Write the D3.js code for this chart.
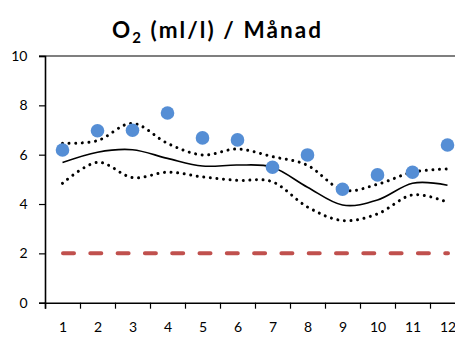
<!DOCTYPE html>
<html>
<head>
<meta charset="utf-8">
<script src="https://cdn.jsdelivr.net/npm/d3@7"></script>
<style>
  html, body { margin: 0; padding: 0; background: #fff; overflow: hidden; }
  svg { display: block; }
  text { font-family: Lato, "Open Sans", sans-serif; fill: #000; }
</style>
</head>
<body>
<svg id="chart" width="455" height="338"></svg>
<script>
// Monthly oxygen values (ml/l)
const months = [1, 2, 3, 4, 5, 6, 7, 8, 9, 10, 11, 12];
const observed = [6.19, 6.97, 6.99, 7.69, 6.68, 6.60, 5.49, 5.99, 4.60, 5.18, 5.29, 6.39];
const mean = [5.68, 6.10, 6.20, 5.85, 5.54, 5.58, 5.49, 4.68, 3.96, 4.16, 4.84, 4.76];
const upper = [6.46, 6.57, 7.27, 6.46, 5.99, 6.23, 5.92, 5.57, 4.57, 4.80, 5.29, 5.42];
const lower = [4.84, 5.69, 5.07, 5.29, 5.10, 4.96, 4.90, 3.88, 3.33, 3.60, 4.37, 4.07];
const limit = [2, 2, 2, 2, 2, 2, 2, 2, 2, 2, 2, 2];
const yTicks = [0, 2, 4, 6, 8, 10];

const svg = d3.select("#chart");
const plotLeft = 45, plotBottom = 302.7, plotTop = 56;

// Month axis: each month occupies one band of width 35 px
const x = d3.scaleLinear().domain([0.5, 12.5]).range([plotLeft, plotLeft + 35 * 12]);
const y = d3.scaleLinear().domain([0, 10]).range([plotBottom, plotTop]);

// Top border line of the plot area
svg.append("line")
  .attr("x1", plotLeft - 6).attr("x2", 455)
  .attr("y1", y(10)).attr("y2", y(10))
  .attr("stroke", "#000").attr("stroke-width", 1.2);

// Y axis
const yAxis = svg.append("g")
  .attr("transform", `translate(${plotLeft},0)`)
  .call(d3.axisLeft(y).tickValues(yTicks).tickSize(6).tickPadding(11.5).tickFormat(d3.format("d")));
yAxis.select(".domain").attr("stroke", "#000").attr("stroke-width", 1.6);
yAxis.selectAll(".tick line").attr("stroke", "#000").attr("stroke-width", 1.2);
yAxis.selectAll("text").attr("font-size", 14).attr("font-family", "Lato, sans-serif").attr("fill", "#000");

// X axis: tick marks at band boundaries, labels at band centres
const boundaries = d3.range(0.5, 13, 1);
const xAxis = svg.append("g")
  .attr("transform", `translate(0,${plotBottom})`)
  .call(d3.axisBottom(x).tickValues(boundaries).tickSize(6).tickFormat(""));
xAxis.select(".domain").attr("stroke", "#000").attr("stroke-width", 1.6);
xAxis.selectAll(".tick line").attr("stroke", "#000").attr("stroke-width", 1.2);

const xLabels = svg.append("g")
  .attr("transform", `translate(0,${plotBottom})`)
  .call(d3.axisBottom(x).tickValues(months).tickSize(0).tickPadding(19).tickFormat(d3.format("d")));
xLabels.select(".domain").remove();
xLabels.selectAll("text").attr("font-size", 14).attr("font-family", "Lato, sans-serif").attr("fill", "#000");

// Smooth line generator
const smooth = d3.line()
  .x((d, i) => x(months[i]))
  .y(d => y(d))
  .curve(d3.curveCardinal.tension(0));

// Limit line at 2 ml/l
svg.append("path")
  .datum(limit)
  .attr("d", d3.line().x((d, i) => x(months[i])).y(d => y(d)))
  .attr("fill", "none")
  .attr("stroke", "#C0504D")
  .attr("stroke-width", 4)
  .attr("stroke-linecap", "round")
  .attr("stroke-dasharray", "11 16.3")
  .attr("transform", "translate(0.5,0)");

// Upper and lower dotted bounds
[upper, lower].forEach(series => {
  svg.append("path")
    .datum(series)
    .attr("d", smooth)
    .attr("fill", "none")
    .attr("stroke", "#000")
    .attr("stroke-width", 3)
    .attr("stroke-linecap", "round")
    .attr("stroke-dasharray", "0.01 6.6");
});

// Mean line
svg.append("path")
  .datum(mean)
  .attr("d", smooth)
  .attr("fill", "none")
  .attr("stroke", "#000")
  .attr("stroke-width", 1.6);

// Observed values
svg.append("g").selectAll("circle")
  .data(observed)
  .join("circle")
  .attr("cx", (d, i) => x(months[i]))
  .attr("cy", d => y(d))
  .attr("r", 6.8)
  .attr("fill", "#558ED5");

// Title with subscript, spread to span x = 113..322
const title = svg.append("text")
  .attr("x", 217.5)
  .attr("y", 38)
  .attr("text-anchor", "middle")
  .attr("font-family", "'Open Sans', sans-serif")
  .attr("font-size", 22.5)
  .attr("font-weight", "bold");
title.append("tspan").text("O");
title.append("tspan").attr("font-size", 15).attr("dy", 5).text("2");
title.append("tspan").attr("dy", -5).text(" (ml/l) / Månad");
const titleWidth = title.node().getComputedTextLength();
const titleChars = "O2 (ml/l) / Månad".length;
const spacing = Math.max(0, (209 - titleWidth) / (titleChars - 1));
title.attr("letter-spacing", spacing);
</script>
</body>
</html>
